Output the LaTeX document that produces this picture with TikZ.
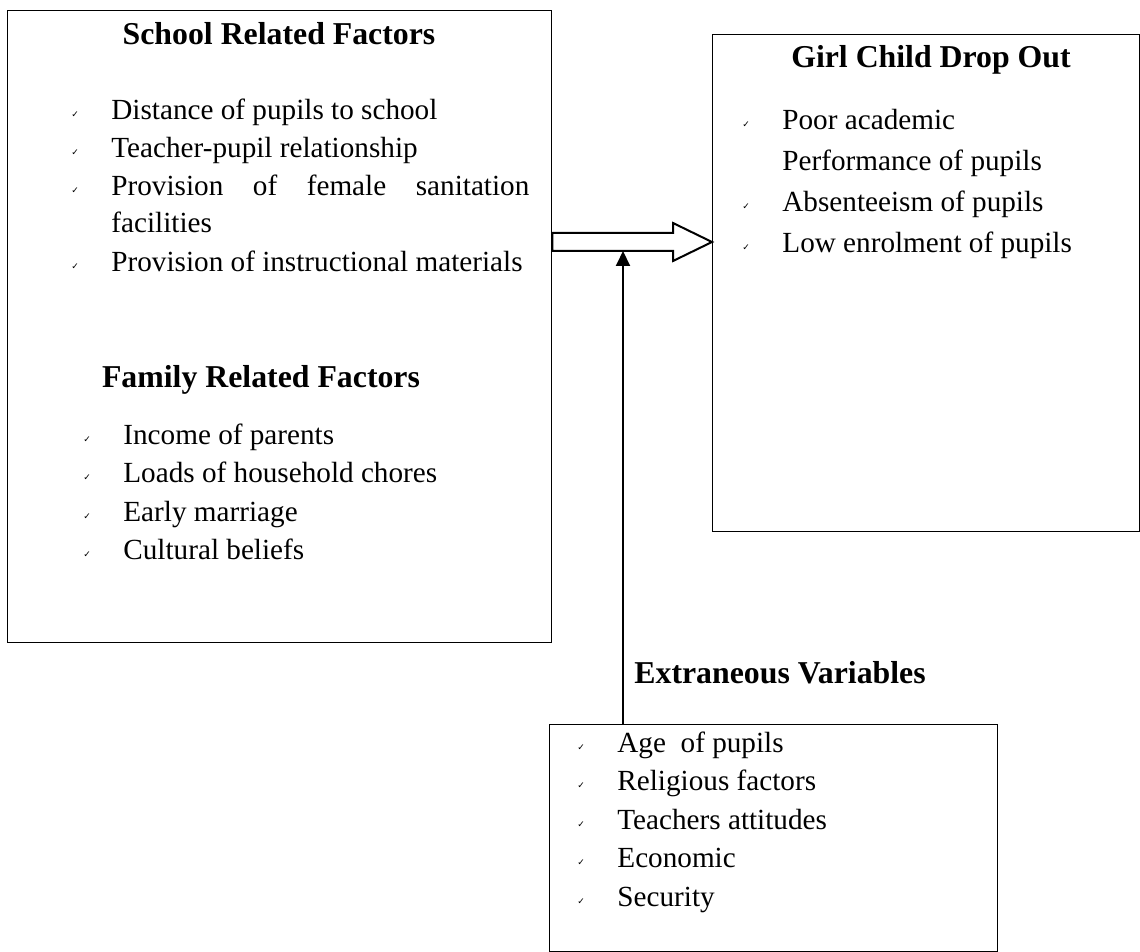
\documentclass[tikz,border=0pt]{standalone}
\usepackage{fontspec}
\setmainfont{Liberation Serif}
\newfontfamily\symfont{DejaVu Sans}
\usepackage{tikz}
\usetikzlibrary{arrows.meta}

\newcommand{\chk}{\raisebox{1pt}{\symfont\fontsize{4.5}{5}\selectfont ✓}}
\newcommand{\bl}{\llap{\makebox[20pt][l]{\chk}}}

\begin{document}
\begin{tikzpicture}[x=0.5pt, y=-0.5pt,
    box/.style={draw, line width=0.65pt, inner sep=0pt, anchor=north west},
    boxtitle/.style={inner sep=0pt, anchor=base, font=\fontsize{15.9}{19}\selectfont\bfseries},
    txt/.style={inner sep=0pt, anchor=base west, font=\fontsize{14.6}{17}\selectfont},
    hollow/.style={draw, line width=1pt, fill=white, line join=miter},
    push/.style={line width=1pt, -{Triangle[length=7.5pt, width=7pt]}}]
    \useasboundingbox (0,0) rectangle (1140,952);
    % boxes
    \node[box, minimum width=272.25pt, minimum height=316pt] (school) at (6.5,10) {};
    \node[box, minimum width=213.25pt, minimum height=248.5pt] (dropout) at (712,34) {};
    \node[box, minimum width=224pt, minimum height=113.5pt] (extra) at (549,724) {};
    % school and family factors
    \node[boxtitle] (schooltitle) at (279,45) {School Related Factors};
    \node[txt] (s1) at (111,120) {\bl Distance of pupils to school};
    \node[txt] (s2) at (111,158) {\bl Teacher-pupil relationship};
    \node[txt] (s3) at (111,196) {\bl\hbox to 209pt{Provision\hfill of\hfill female\hfill sanitation}};
    \node[txt] (s4) at (111,233) {facilities};
    \node[txt] (s5) at (111,271) {\bl Provision of instructional materials};
    \node[boxtitle] (familytitle) at (261,387) {Family Related Factors};
    \node[txt] (f1) at (123,444) {\bl Income of parents};
    \node[txt] (f2) at (123,482) {\bl Loads of household chores};
    \node[txt] (f3) at (123,521) {\bl Early marriage};
    \node[txt] (f4) at (123,559) {\bl Cultural beliefs};
    % drop out
    \node[boxtitle] (droptitle) at (931,68) {Girl Child Drop Out};
    \node[txt] (g1) at (782,130) {\bl Poor academic};
    \node[txt] (g2) at (782,171) {Performance of pupils};
    \node[txt] (g3) at (782,212) {\bl Absenteeism of pupils};
    \node[txt] (g4) at (782,253) {\bl Low enrolment of pupils};
    % extraneous
    \node[boxtitle, anchor=base west] (extratitle) at (634,683) {Extraneous Variables};
    \node[txt] (e1) at (617,752) {\bl Age \ of pupils};
    \node[txt] (e2) at (617,790) {\bl Religious factors};
    \node[txt] (e3) at (617,829) {\bl Teachers attitudes};
    \node[txt] (e4) at (617,867) {\bl Economic};
    \node[txt] (e5) at (617,906) {\bl Security};
    % arrows
    \coordinate (hit) at (623,251);
    \draw[push] (hit |- extra.north) -- (hit);
    \draw[hollow] (school.east |- 0,233) -- (673,233) -- (673,223) -- (dropout.west |- 0,242)
        -- (673,261) -- (673,251) -- (school.east |- 0,251) -- cycle;
\end{tikzpicture}
\end{document}
